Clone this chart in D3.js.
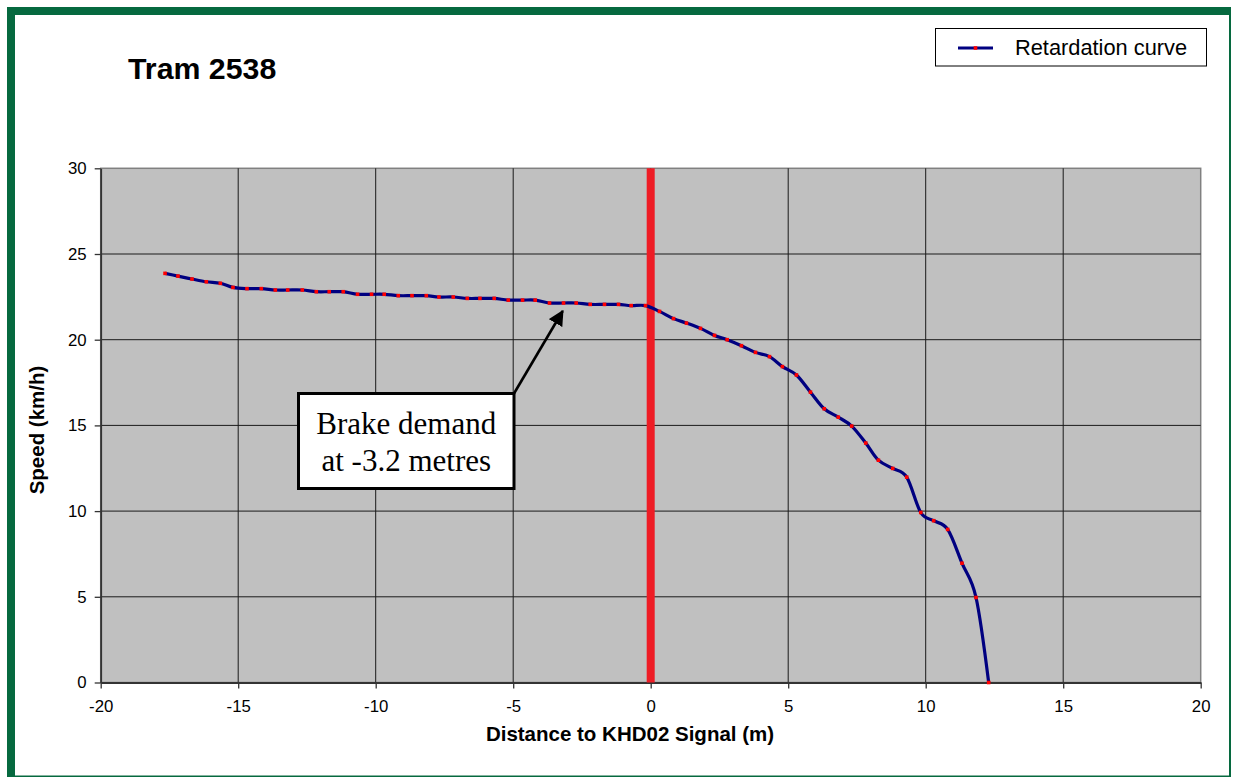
<!DOCTYPE html>
<html>
<head>
<meta charset="utf-8">
<script src="https://cdn.jsdelivr.net/npm/d3@7"></script>
<style>
  body { margin: 0; background: #fff; }
  text { font-family: "Liberation Sans", Arial, sans-serif; }
</style>
</head>
<body>
<svg id="chart" width="1234" height="778"></svg>
<script>
// distance to signal (m) and speed (km/h)
const distance = [-17.66, -17.19, -16.68, -16.16, -15.65, -15.19, -14.68, -14.16, -13.65, -13.20,
  -12.67, -12.16, -11.69, -11.18, -10.66, -10.15, -9.69, -9.18, -8.68, -8.16,
  -7.70, -7.18, -6.67, -6.21, -5.69, -5.18, -4.66, -4.20, -3.68, -3.17,
  -2.71, -2.20, -1.68, -1.17, -0.71, -0.19, 0.32, 0.83, 1.30, 1.81,
  2.32, 2.78, 3.30, 3.81, 4.32, 4.79, 5.30, 5.81, 6.31, 6.82,
  7.31, 7.82, 8.28, 8.80, 9.31, 9.82, 10.29, 10.80, 11.32, 11.83, 12.29];
const speed = [23.87, 23.71, 23.54, 23.38, 23.29, 23.05, 22.98, 22.98, 22.90, 22.90,
  22.90, 22.80, 22.80, 22.80, 22.65, 22.65, 22.65, 22.57, 22.57, 22.57,
  22.49, 22.49, 22.41, 22.41, 22.41, 22.31, 22.31, 22.31, 22.14, 22.14,
  22.14, 22.06, 22.06, 22.06, 21.99, 21.99, 21.65, 21.23, 20.97, 20.66,
  20.25, 20.00, 19.65, 19.26, 19.01, 18.43, 17.94, 16.94, 15.97, 15.48,
  14.96, 13.97, 12.97, 12.49, 11.98, 9.92, 9.44, 8.93, 6.96, 4.96, 0];

const xTicks = [-20, -15, -10, -5, 0, 5, 10, 15, 20];
const yTicks = [0, 5, 10, 15, 20, 25, 30];
const signalAt = 0;
const brakeAt = -3.2;

const svg = d3.select("#chart");

// green frame
svg.append("rect").attr("x", 7).attr("y", 7).attr("width", 1224).attr("height", 770).attr("fill", "#06693f");
svg.append("rect").attr("x", 15).attr("y", 15).attr("width", 1214).attr("height", 760.5).attr("fill", "#fff");

let pLeft = 100.7, pRight = 1200.7, pTop = 168.3, pBottom = 682.5;

let x = d3.scaleLinear().domain([-20, 20]).range([pLeft, pRight]);
let y = d3.scaleLinear().domain([0, 30]).range([pBottom, pTop]);

svg.append("rect")
    .attr("x", pLeft).attr("y", pTop)
    .attr("width", pRight - pLeft).attr("height", pBottom - pTop)
    .attr("fill", "#c0c0c0")
    .attr("stroke", "#808080").attr("stroke-width", 1.5);

// gridlines
svg.append("g").selectAll("line")
    .data(yTicks.slice(1, -1))
    .enter().append("line")
    .attr("x1", pLeft).attr("x2", pRight)
    .attr("y1", d => y(d)).attr("y2", d => y(d))
    .attr("stroke", "#1a1a1a").attr("stroke-width", 1);
svg.append("g").selectAll("line")
    .data(xTicks.slice(1, -1))
    .enter().append("line")
    .attr("y1", pTop).attr("y2", pBottom)
    .attr("x1", d => x(d)).attr("x2", d => x(d))
    .attr("stroke", "#1a1a1a").attr("stroke-width", 1);

// axes (plain hyphen for negatives, like the original)
let xAxis = svg.append("g")
    .attr("transform", "translate(0," + pBottom + ")")
    .call(d3.axisBottom(x).tickValues(xTicks).tickFormat(d => String(d))
        .tickSize(6).tickSizeOuter(0).tickPadding(12));
let yAxis = svg.append("g")
    .attr("transform", "translate(" + pLeft + ",0)")
    .call(d3.axisLeft(y).tickValues(yTicks).tickFormat(d => String(d))
        .tickSize(6).tickSizeOuter(0).tickPadding(8));
[xAxis, yAxis].forEach(a => {
    a.select(".domain").attr("stroke", "#333").attr("stroke-width", 1.8);
    a.selectAll(".tick line").attr("stroke", "#333").attr("stroke-width", 1.3);
    a.selectAll(".tick text").attr("fill", "#000")
        .style("font-family", "'Liberation Sans', Arial, sans-serif")
        .style("font-size", "16.8px");
});

// signal line
svg.append("line")
    .attr("x1", x(signalAt)).attr("x2", x(signalAt))
    .attr("y1", pTop).attr("y2", pBottom)
    .attr("stroke", "#ee1c25").attr("stroke-width", 8);

// retardation curve
let pts = distance.map((d, i) => [d, speed[i]]);
let line = d3.line()
    .x(d => x(d[0]))
    .y(d => y(d[1]))
    .curve(d3.curveCardinal.tension(0));

svg.append("path")
    .datum(pts)
    .attr("d", line)
    .attr("fill", "none")
    .attr("stroke", "#000080")
    .attr("stroke-width", 3.2);

svg.append("g").selectAll("rect")
    .data(pts)
    .enter().append("rect")
    .attr("x", d => x(d[0]) - 1.8).attr("y", d => y(d[1]) - 1.8)
    .attr("width", 3.6).attr("height", 3.6)
    .attr("fill", "#ff0000");

// annotation
let speedAtBrake = d3.scaleLinear().domain(distance).range(speed)(brakeAt);
let tipX = x(brakeAt), tipY = y(speedAtBrake) + 8;
let boxX = 298.5, boxY = 393.5, boxW = 215.5, boxH = 95;

svg.append("defs").append("marker")
    .attr("id", "arrow")
    .attr("viewBox", "0 0 10 10")
    .attr("refX", 9).attr("refY", 5)
    .attr("markerWidth", 6).attr("markerHeight", 6)
    .attr("markerUnits", "strokeWidth")
    .attr("orient", "auto")
    .append("path").attr("d", "M0,0 L10,5 L0,10 z").attr("fill", "#000");

svg.append("line")
    .attr("x1", boxX + boxW).attr("y1", boxY)
    .attr("x2", tipX).attr("y2", tipY)
    .attr("stroke", "#000").attr("stroke-width", 2.6)
    .attr("marker-end", "url(#arrow)");

svg.append("rect")
    .attr("x", boxX).attr("y", boxY).attr("width", boxW).attr("height", boxH)
    .attr("fill", "#fff").attr("stroke", "#000").attr("stroke-width", 3);

svg.append("text")
    .attr("x", boxX + boxW / 2).attr("y", 434)
    .attr("text-anchor", "middle")
    .style("font-family", "'Liberation Serif', 'Times New Roman', serif")
    .style("font-size", "31px")
    .text("Brake demand");
svg.append("text")
    .attr("x", boxX + boxW / 2).attr("y", 471)
    .attr("text-anchor", "middle")
    .style("font-family", "'Liberation Serif', 'Times New Roman', serif")
    .style("font-size", "31px")
    .text("at -3.2 metres");

// titles
svg.append("text")
    .attr("x", 128).attr("y", 78.5)
    .style("font-size", "30.3px").style("font-weight", "bold")
    .text("Tram 2538");

svg.append("text")
    .attr("x", 630).attr("y", 741)
    .attr("text-anchor", "middle")
    .style("font-size", "20.5px").style("font-weight", "bold")
    .text("Distance to KHD02 Signal (m)");

svg.append("text")
    .attr("transform", "translate(44,430) rotate(-90)")
    .attr("text-anchor", "middle")
    .style("font-size", "20.5px").style("font-weight", "bold")
    .text("Speed (km/h)");

// legend
let lg = svg.append("g");
lg.append("rect")
    .attr("x", 935.5).attr("y", 28.5).attr("width", 271).attr("height", 37.5)
    .attr("fill", "#fff").attr("stroke", "#000").attr("stroke-width", 1);
lg.append("line")
    .attr("x1", 958).attr("x2", 993).attr("y1", 48).attr("y2", 48)
    .attr("stroke", "#000080").attr("stroke-width", 3);
lg.append("rect")
    .attr("x", 973.7).attr("y", 46.2).attr("width", 3.6).attr("height", 3.6)
    .attr("fill", "#ff0000");
lg.append("text")
    .attr("x", 1015).attr("y", 54.5)
    .style("font-size", "21.8px")
    .text("Retardation curve");
</script>
</body>
</html>
